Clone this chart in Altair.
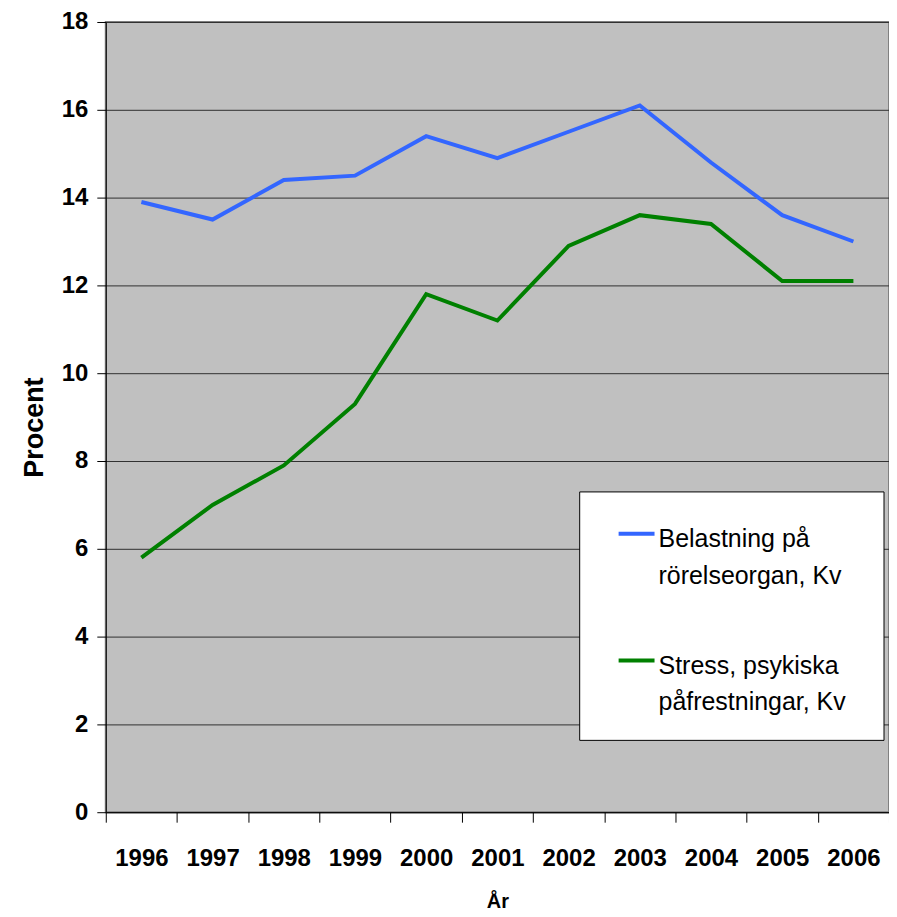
import altair as alt
import pandas as pd

years = ["1996", "1997", "1998", "1999", "2000", "2001", "2002", "2003", "2004", "2005", "2006"]
belastning = [13.9, 13.5, 14.4, 14.5, 15.4, 14.9, 15.5, 16.1, 14.8, 13.6, 13.0]
stress = [5.8, 7.0, 7.9, 9.3, 11.8, 11.2, 12.9, 13.6, 13.4, 12.1, 12.1]
series_names = ["Belastning på rörelseorgan, Kv", "Stress, psykiska påfrestningar, Kv"]
legend_lines = [["Belastning på", "rörelseorgan, Kv"], ["Stress, psykiska", "påfrestningar, Kv"]]
colors = ["#3366FF", "#008000"]
y_ticks = [0, 2, 4, 6, 8, 10, 12, 14, 16, 18]

FONT = "Liberation Sans Narrow, Arial Narrow, Liberation Sans, Arial, sans-serif"

rows = []
for name, vals in zip(series_names, [belastning, stress]):
    for yr, v in zip(years, vals):
        rows.append({"year": yr, "value": v, "series": name})
df = pd.DataFrame(rows)

W, H = 785, 792
TOP = 13

lines = alt.Chart(df).mark_line(strokeWidth=4).encode(
    x=alt.X(
        "year:O",
        sort=years,
        scale=alt.Scale(type="band", paddingInner=0, paddingOuter=0),
        bandPosition=0.5,
        axis=alt.Axis(
            tickBand="extent",
            tickSize=10,
            tickColor="black",
            domainColor="black",
            labelAngle=0,
            labelFont=FONT,
            labelFontSize=24,
            labelFontWeight="bold",
            labelColor="black",
            labelPadding=24,
            labelBaseline="top",
            title="År",
            titleFont=FONT,
            titleFontSize=20,
            titleFontWeight="bold",
            titleColor="black",
            titleY=903 - 8 - TOP - H,
            titleBaseline="middle",
        ),
    ),
    y=alt.Y(
        "value:Q",
        scale=alt.Scale(domain=[0, 18], nice=False),
        axis=alt.Axis(
            values=y_ticks,
            grid=True,
            gridColor="#303030",
            gridWidth=1,
            tickSize=9,
            tickColor="black",
            domainColor="black",
            labelFont=FONT,
            labelFontSize=24,
            labelFontWeight="bold",
            labelColor="black",
            labelPadding=9,
            title="Procent",
            titleFont=FONT,
            titleFontSize=27,
            titleFontWeight="bold",
            titleColor="black",
            titleAngle=-90,
            titleX=-71,
            titleY=H / 2 + 10,
            titleAlign="center",
            titleBaseline="middle",
        ),
    ),
    color=alt.Color(
        "series:N",
        scale=alt.Scale(domain=series_names, range=colors),
        legend=None,
    ),
)

one = pd.DataFrame({"k": [0]})
legend_box = alt.Chart(one).mark_rect(fill="white", stroke="black", strokeWidth=1).encode(
    x=alt.value(475), x2=alt.value(780), y=alt.value(471), y2=alt.value(720)
)

layers = [lines, legend_box]
for i, (lbl, col) in enumerate(zip(legend_lines, colors)):
    base_y = 513 + i * 127
    layers.append(
        alt.Chart(one).mark_rule(strokeWidth=4, color=col).encode(
            x=alt.value(514), x2=alt.value(550), y=alt.value(base_y)
        )
    )
    layers.append(
        alt.Chart(pd.DataFrame({"t": ["\n".join(lbl)]})).mark_text(
            align="left",
            baseline="alphabetic",
            font=FONT,
            fontSize=25,
            color="black",
            lineBreak="\n",
            lineHeight=37,
        ).encode(x=alt.value(554), y=alt.value(base_y + 13), text="t:N")
    )

chart = alt.layer(*layers).properties(
    width=W,
    height=H,
    background="white",
    autosize=alt.AutoSizeParams(type="none"),
    padding={"left": 98, "top": TOP, "right": 0, "bottom": 917 - 8 - TOP - H},
).configure_view(
    fill="#C0C0C0", stroke="#808080", strokeWidth=2
)

chart.save("out.html", embed_options={"renderer": "svg", "actions": False})
